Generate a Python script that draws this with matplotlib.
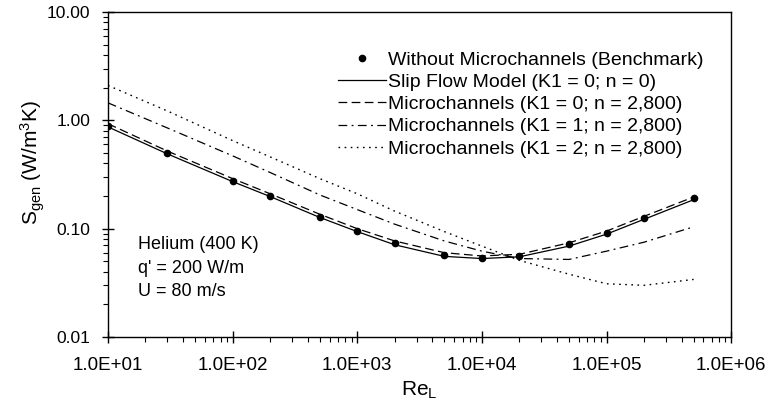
import numpy as np
import matplotlib
matplotlib.use("Agg")
import matplotlib.pyplot as plt
from matplotlib.ticker import FixedLocator, LogLocator, NullFormatter

plt.rcParams['font.family'] = ['Liberation Sans', 'DejaVu Sans']
plt.rcParams['mathtext.default'] = 'regular'

# Reynolds numbers
re_L = [10, 30, 100, 200, 500, 1e3, 2e3, 5e3, 1e4, 2e4, 5e4, 1e5, 2e5, 5e5]

# entropy generation (W/m^3K)
benchmark = [0.88, 0.50, 0.275, 0.20, 0.129, 0.096, 0.073, 0.057, 0.054, 0.0565, 0.0715, 0.092, 0.126, 0.19]
slip_flow = [0.87, 0.49, 0.272, 0.198, 0.127, 0.094, 0.071, 0.0555, 0.053, 0.055, 0.069, 0.089, 0.122, 0.185]
k1_0 = [0.93, 0.52, 0.29, 0.21, 0.136, 0.100, 0.077, 0.060, 0.056, 0.058, 0.074, 0.095, 0.130, 0.196]
k1_1 = [1.45, 0.85, 0.47, 0.33, 0.205, 0.15, 0.11, 0.077, 0.062, 0.053, 0.052, 0.062, 0.075, 0.104]
k1_2 = [2.1, 1.22, 0.65, 0.46, 0.29, 0.21, 0.145, 0.094, 0.069, 0.051, 0.038, 0.031, 0.030, 0.034]

labels = ["Without Microchannels (Benchmark)",
          "Slip Flow Model (K1 = 0; n = 0)",
          "Microchannels (K1 = 0; n = 2,800)",
          "Microchannels (K1 = 1; n = 2,800)",
          "Microchannels (K1 = 2; n = 2,800)"]

x_ticks = [1e1, 1e2, 1e3, 1e4, 1e5, 1e6]
x_ticklabels = ["1.0E+01", "1.0E+02", "1.0E+03", "1.0E+04", "1.0E+05", "1.0E+06"]
y_ticks = [0.01, 0.1, 1, 10]
y_ticklabels = ["0.01", "0.10", "1.00", "10.00"]

fig = plt.figure(figsize=(7.68, 4.08), dpi=100)
ax = fig.add_axes([0.1406, 0.174, 0.8114, 0.7966])

ax.plot(re_L, benchmark, marker="o", linestyle="None", color="black", markersize=4.5, label=labels[0])
ax.plot(re_L, slip_flow, linestyle="-", color="black", linewidth=0.9, label=labels[1])
ax.plot(re_L, k1_0, linestyle=(0, (7, 3.5)), color="black", linewidth=0.9, label=labels[2])
ax.plot(re_L, k1_1, linestyle=(0, (7, 3.5, 1.5, 3.5)), color="black", linewidth=0.9, label=labels[3])
ax.plot(re_L, k1_2, linestyle=(0, (1.2, 3.2)), color="black", linewidth=1.0, label=labels[4])

ax.set_xscale("log")
ax.set_yscale("log")
ax.set_xlim(10, 1e6)
ax.set_ylim(0.01, 10)

ax.xaxis.set_major_locator(FixedLocator(x_ticks))
ax.set_xticklabels(x_ticklabels)
ax.yaxis.set_major_locator(FixedLocator(y_ticks))
ax.set_yticklabels(y_ticklabels)
ax.xaxis.set_minor_locator(LogLocator(base=10, subs=np.arange(2, 10)))
ax.yaxis.set_minor_locator(LogLocator(base=10, subs=np.arange(2, 10)))
ax.xaxis.set_minor_formatter(NullFormatter())
ax.yaxis.set_minor_formatter(NullFormatter())

ax.tick_params(which="major", direction="inout", length=9, width=1)
ax.tick_params(axis="x", which="major", labelsize=13.5, pad=10)
ax.tick_params(axis="y", which="major", labelsize=12.5, pad=8)
ax.tick_params(which="minor", direction="out", length=3.5, width=0.8)
for s in ax.spines.values():
    s.set_linewidth(1)

ax.set_xlabel("Re$_L$", fontsize=15)
ax.set_ylabel("S$_{gen}$ (W/m$^3$K)", fontsize=15)
ax.xaxis.set_label_coords(0.5, -0.13)
ax.yaxis.set_label_coords(-0.098, 0.538)

leg = ax.legend(loc="upper left", bbox_to_anchor=(0.369, 0.88), frameon=False,
                fontsize=14, handlelength=2.45, handletextpad=0.15,
                labelspacing=0.24, borderaxespad=0, borderpad=0)

ax.text(0.048, 0.212, "Helium (400 K)\nq' = 200 W/m\nU = 80 m/s", transform=ax.transAxes,
        fontsize=13, va="center", ha="left", linespacing=1.5)

fig.savefig("out.png", dpi=100)
